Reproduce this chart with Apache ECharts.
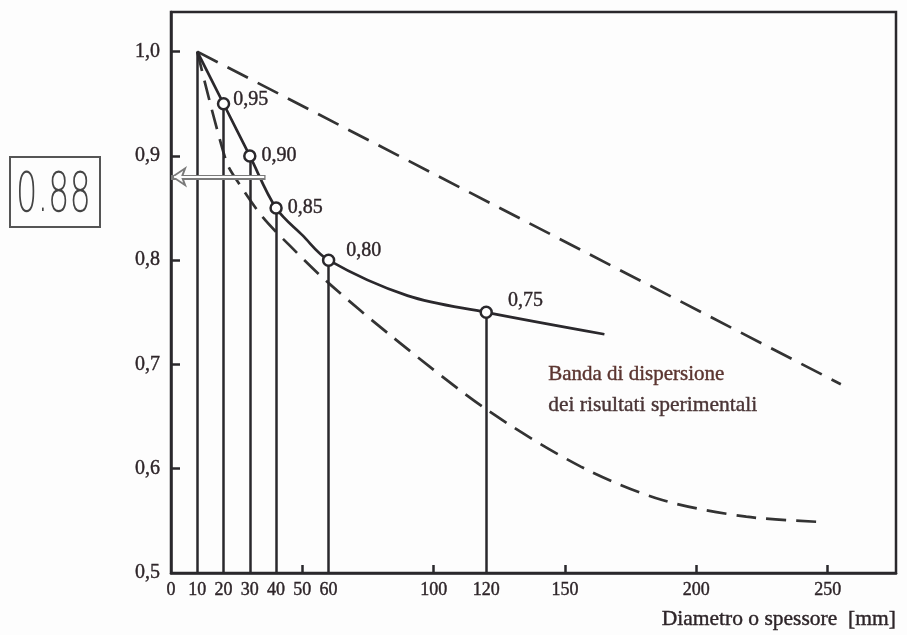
<!DOCTYPE html>
<html><head><meta charset="utf-8">
<script src="https://cdn.jsdelivr.net/npm/echarts@6/dist/echarts.min.js"></script>
<style>html,body{margin:0;padding:0;background:#fdfdfd}#c{width:907px;height:635px}</style>
</head><body><div id="c"></div>
<script>
// ---- data ----
const xTickLabels = [0,10,20,30,40,50,60,100,120,150,200,250];
const xTickMarks = [50,100,150,200,250];
const yTickLabels = [0.5,0.6,0.7,0.8,0.9,1.0];
const yTickMarks = [0.6,0.7,0.8,0.9,1.0];
const markedX = [20,30,40,60,120];
const markedY = [0.95,0.90,0.85,0.80,0.75];
const solidX = [10,20,30,40,50,60,90,120,165];
const solidY = [1.0,0.95,0.90,0.85,0.824,0.80,0.766,0.75,0.729];
const upperX = [10,255];
const upperY = [1.0,0.681];
const lowerX = [10,21,26,35,46,60,84,120,156,187,219,247];
const lowerY = [1.0,0.895,0.873,0.841,0.812,0.778,0.727,0.657,0.602,0.570,0.554,0.549];
const dropX = [10,20,30,40,60,120];
const dropY = [1.0,0.95,0.90,0.85,0.80,0.75];
const readValue = 0.88;
const readFromX = 36;
const yMin = 0.5, yMax = 1.038, xMin = 0, xMax = 276;

// label nudges (style only)
const labelOffsets = [[0,-4],[2,0],[2,0],[8,-9],[12,-12]];

const zip = (a,b) => a.map((v,i)=>[v,b[i]]);
const comma = v => String(v).replace('.', ',');
const ink = '#2a282c';
const txt = '#2e2529';
const serif = '"Liberation Serif","DejaVu Serif",serif';
const heavy = {textBorderColor: txt, textBorderWidth: 0.4};

const chart = echarts.init(document.getElementById('c'), null, {renderer:'canvas'});
chart.setOption({
  backgroundColor: '#fdfdfd',
  animation: false,
  grid: {left:171, right:11, top:12, bottom:62, show:true, borderColor:ink, borderWidth:2.5, backgroundColor:'transparent'},
  xAxis: {
    type:'value', min:xMin, max:xMax,
    axisLine:{show:true, lineStyle:{color:ink, width:2.5}},
    axisTick:{show:true, inside:true, length:8, customValues:xTickMarks, lineStyle:{color:ink, width:2.5}},
    axisLabel:Object.assign({customValues:xTickLabels, color:txt, fontFamily:serif, fontSize:18, margin:8}, heavy),
    splitLine:{show:false}
  },
  yAxis: {
    type:'value', min:yMin, max:yMax,
    axisLine:{show:true, lineStyle:{color:ink, width:2.5}},
    axisTick:{show:true, inside:true, length:9, customValues:yTickMarks, lineStyle:{color:ink, width:2.5}},
    axisLabel:Object.assign({customValues:yTickLabels, formatter: v => comma(v.toFixed(1)), color:txt, fontFamily:serif, fontSize:20, margin:11}, heavy),
    splitLine:{show:false}
  },
  series: [
    {type:'line', data:zip(upperX,upperY), symbol:'none', lineStyle:{color:'#333',width:2.7,type:[23,11]}, z:2},
    {type:'line', data:zip(lowerX,lowerY), symbol:'none', smooth:0.3, lineStyle:{color:'#333',width:2.7,type:[20,10]}, z:2},
    {type:'line', data:zip(solidX,solidY), symbol:'none', smooth:0.35, lineStyle:{color:ink,width:2.7}, z:3},
    {type:'lines', coordinateSystem:'cartesian2d', polyline:false, symbol:'none',
     lineStyle:{color:ink,width:2.5,opacity:1},
     data: dropX.map((x,i)=>({coords:[[x,yMin],[x,dropY[i]]]})), z:3},
    {type:'lines', coordinateSystem:'cartesian2d', symbol:['none','arrow'], symbolSize:16,
     lineStyle:{color:'#7a7a7a',width:5,opacity:1},
     data:[{coords:[[readFromX,readValue],[xMin,readValue]]}], z:4},
    {type:'lines', coordinateSystem:'cartesian2d', symbol:['none','arrow'], symbolSize:9,
     lineStyle:{color:'#fdfdfd',width:1.8,opacity:1},
     data:[{coords:[[readFromX-0.5,readValue],[xMin+1.2,readValue]]}], z:5},
    {type:'scatter', symbol:'circle', symbolSize:11,
     data: markedX.map((x,i)=>({value:[x,markedY[i]], label:{offset:labelOffsets[i]}})),
     itemStyle:{color:'#ffffff', borderColor:ink, borderWidth:2.5, opacity:1},
     label:Object.assign({show:true, position:'right', distance:3, formatter:p=>comma(p.value[1].toFixed(2)),
            color:txt, fontFamily:serif, fontSize:20}, heavy),
     z:6}
  ],
  graphic: [
    {type:'text', left:548, top:364, style:{text:'Banda di dispersione', fill:'#5b3530', font:'21px '+serif, stroke:'#5b3530', lineWidth:0.4}},
    {type:'text', left:548, top:394, style:{text:'dei risultati sperimentali', fill:'#4a3536', font:'21.5px '+serif, stroke:'#4a3536', lineWidth:0.4}},
    {type:'text', right:11, top:608, style:{text:'Diametro o spessore  [mm]', fill:txt, font:'21.5px '+serif, stroke:txt, lineWidth:0.4}},
    {type:'rect', shape:{x:10, y:157, width:90, height:70}, style:{fill:'none', stroke:'#555', lineWidth:2}},
    {type:'text', x:16, y:168, scaleX:0.6, style:{text:'0.88', fill:'#444', font:'200 56px "DejaVu Sans", sans-serif'}}
  ]
});
</script></body></html>
